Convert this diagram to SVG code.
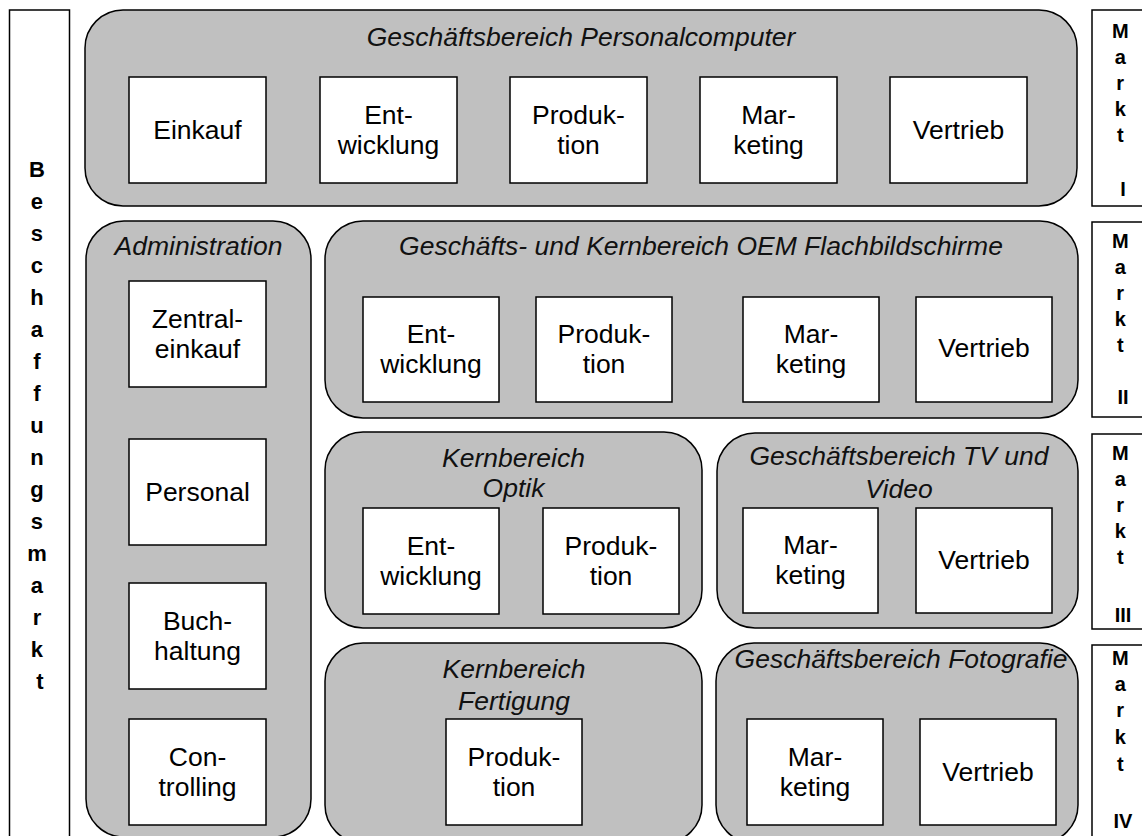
<svg xmlns="http://www.w3.org/2000/svg" width="1142" height="836" viewBox="0 0 1142 836">
  <style>
    .bar { fill: #ffffff; stroke: #000000; stroke-width: 1.5; }
    .area { fill: #c0c0c0; stroke: #000000; stroke-width: 1.5; }
    .unit { fill: #ffffff; stroke: #000000; stroke-width: 1.5; }
    text { font-family: "Liberation Sans", Arial, sans-serif; fill: #000000; }
    .title { font-size: 26.5px; font-style: italic; text-anchor: middle; fill: #111111; }
    .label { font-size: 26.5px; text-anchor: middle; }
    .vert { font-weight: bold; text-anchor: middle; }
  </style>

  <!-- Procurement market bar on the left -->
  <g id="beschaffungsmarkt">
    <rect class="bar" x="9.5" y="10" width="60" height="840"/>
    <text class="vert" font-size="22">
      <tspan x="40" y="177">B</tspan>
      <tspan x="40" y="209">e</tspan>
      <tspan x="40" y="241">s</tspan>
      <tspan x="40" y="273">c</tspan>
      <tspan x="40" y="305">h</tspan>
      <tspan x="40" y="337">a</tspan>
      <tspan x="40" y="369">f</tspan>
      <tspan x="40" y="401">f</tspan>
      <tspan x="40" y="433">u</tspan>
      <tspan x="40" y="465">n</tspan>
      <tspan x="40" y="497">g</tspan>
      <tspan x="40" y="529">s</tspan>
      <tspan x="40" y="561">m</tspan>
      <tspan x="40" y="593">a</tspan>
      <tspan x="40" y="625">r</tspan>
      <tspan x="40" y="657">k</tspan>
      <tspan x="40" y="689">t</tspan>
    </text>
  </g>

  <!-- Sales markets on the right -->
  <g id="markt-1">
    <rect class="bar" x="1092" y="10" width="60" height="196"/>
    <text class="vert" font-size="20">
      <tspan x="1123" y="38">M</tspan>
      <tspan x="1123" y="64">a</tspan>
      <tspan x="1123" y="90">r</tspan>
      <tspan x="1123" y="116">k</tspan>
      <tspan x="1123" y="142">t</tspan>
      <tspan x="1123" y="196">I</tspan>
    </text>
  </g>
  <g id="markt-2">
    <rect class="bar" x="1092" y="222" width="60" height="195"/>
    <text class="vert" font-size="20">
      <tspan x="1123" y="248">M</tspan>
      <tspan x="1123" y="274">a</tspan>
      <tspan x="1123" y="300">r</tspan>
      <tspan x="1123" y="326">k</tspan>
      <tspan x="1123" y="352">t</tspan>
      <tspan x="1123" y="404">II</tspan>
    </text>
  </g>
  <g id="markt-3">
    <rect class="bar" x="1092" y="434" width="60" height="195"/>
    <text class="vert" font-size="20">
      <tspan x="1123" y="460">M</tspan>
      <tspan x="1123" y="486">a</tspan>
      <tspan x="1123" y="512">r</tspan>
      <tspan x="1123" y="538">k</tspan>
      <tspan x="1123" y="564">t</tspan>
      <tspan x="1123" y="622">III</tspan>
    </text>
  </g>
  <g id="markt-4">
    <rect class="bar" x="1092" y="645" width="60" height="200"/>
    <text class="vert" font-size="20">
      <tspan x="1123" y="665">M</tspan>
      <tspan x="1123" y="691">a</tspan>
      <tspan x="1123" y="717">r</tspan>
      <tspan x="1123" y="744">k</tspan>
      <tspan x="1123" y="771">t</tspan>
      <tspan x="1123" y="828">IV</tspan>
    </text>
  </g>

  <!-- Business unit: personal computers -->
  <g id="gb-personalcomputer">
    <rect class="area" x="85" y="10" width="992" height="196" rx="38"/>
    <text class="title" x="581" y="46">Geschäftsbereich Personalcomputer</text>
    <rect class="unit" x="129" y="77" width="137" height="106"/>
    <text class="label" x="197.5" y="139">Einkauf</text>
    <rect class="unit" x="320" y="77" width="137" height="106"/>
    <text class="label"><tspan x="388.5" y="124">Ent-</tspan><tspan x="388.5" y="154">wicklung</tspan></text>
    <rect class="unit" x="510" y="77" width="137" height="106"/>
    <text class="label"><tspan x="578.5" y="124">Produk-</tspan><tspan x="578.5" y="154">tion</tspan></text>
    <rect class="unit" x="700" y="77" width="137" height="106"/>
    <text class="label"><tspan x="768.5" y="124">Mar-</tspan><tspan x="768.5" y="154">keting</tspan></text>
    <rect class="unit" x="890" y="77" width="137" height="106"/>
    <text class="label" x="958.5" y="139">Vertrieb</text>
  </g>

  <!-- Administration -->
  <g id="administration">
    <rect class="area" x="86" y="221" width="225" height="616" rx="38"/>
    <text class="title" x="198.5" y="255">Administration</text>
    <rect class="unit" x="129" y="281" width="137" height="106"/>
    <text class="label"><tspan x="197.5" y="328">Zentral-</tspan><tspan x="197.5" y="358">einkauf</tspan></text>
    <rect class="unit" x="129" y="439" width="137" height="106"/>
    <text class="label" x="197.5" y="501">Personal</text>
    <rect class="unit" x="129" y="583" width="137" height="106"/>
    <text class="label"><tspan x="197.5" y="630">Buch-</tspan><tspan x="197.5" y="660">haltung</tspan></text>
    <rect class="unit" x="129" y="719" width="137" height="106"/>
    <text class="label"><tspan x="197.5" y="766">Con-</tspan><tspan x="197.5" y="796">trolling</tspan></text>
  </g>

  <!-- Business and core unit: OEM flat panels -->
  <g id="gkb-oem-flachbildschirme">
    <rect class="area" x="325" y="221" width="753" height="197" rx="38"/>
    <text class="title" x="701" y="255">Geschäfts- und Kernbereich OEM Flachbildschirme</text>
    <rect class="unit" x="363" y="297" width="136" height="105"/>
    <text class="label"><tspan x="431" y="343">Ent-</tspan><tspan x="431" y="373">wicklung</tspan></text>
    <rect class="unit" x="536" y="297" width="136" height="105"/>
    <text class="label"><tspan x="604" y="343">Produk-</tspan><tspan x="604" y="373">tion</tspan></text>
    <rect class="unit" x="743" y="297" width="136" height="105"/>
    <text class="label"><tspan x="811" y="343">Mar-</tspan><tspan x="811" y="373">keting</tspan></text>
    <rect class="unit" x="916" y="297" width="136" height="105"/>
    <text class="label" x="984" y="357">Vertrieb</text>
  </g>

  <!-- Core unit: optics -->
  <g id="kb-optik">
    <rect class="area" x="325" y="432" width="377" height="196" rx="38"/>
    <text class="title"><tspan x="513.5" y="467">Kernbereich</tspan><tspan x="513.5" y="497">Optik</tspan></text>
    <rect class="unit" x="363" y="508" width="136" height="106"/>
    <text class="label"><tspan x="431" y="555">Ent-</tspan><tspan x="431" y="585">wicklung</tspan></text>
    <rect class="unit" x="543" y="508" width="136" height="106"/>
    <text class="label"><tspan x="611" y="555">Produk-</tspan><tspan x="611" y="585">tion</tspan></text>
  </g>

  <!-- Business unit: TV and video -->
  <g id="gb-tv-video">
    <rect class="area" x="717" y="433" width="361" height="195" rx="38"/>
    <text class="title"><tspan x="899" y="465">Geschäftsbereich TV und</tspan><tspan x="899" y="498">Video</tspan></text>
    <rect class="unit" x="743" y="508" width="135" height="105"/>
    <text class="label"><tspan x="810.5" y="554">Mar-</tspan><tspan x="810.5" y="584">keting</tspan></text>
    <rect class="unit" x="916" y="508" width="136" height="105"/>
    <text class="label" x="984" y="569">Vertrieb</text>
  </g>

  <!-- Core unit: manufacturing -->
  <g id="kb-fertigung">
    <rect class="area" x="325" y="643" width="377" height="200" rx="38"/>
    <text class="title"><tspan x="514" y="678">Kernbereich</tspan><tspan x="514" y="710">Fertigung</tspan></text>
    <rect class="unit" x="446" y="719" width="136" height="106"/>
    <text class="label"><tspan x="514" y="766">Produk-</tspan><tspan x="514" y="796">tion</tspan></text>
  </g>

  <!-- Business unit: photography -->
  <g id="gb-fotografie">
    <rect class="area" x="716" y="643" width="362" height="200" rx="38"/>
    <text class="title" x="901" y="668">Geschäftsbereich Fotografie</text>
    <rect class="unit" x="747" y="719" width="136" height="106"/>
    <text class="label"><tspan x="815" y="766">Mar-</tspan><tspan x="815" y="796">keting</tspan></text>
    <rect class="unit" x="920" y="719" width="136" height="106"/>
    <text class="label" x="988" y="781">Vertrieb</text>
  </g>

  <!-- no connectors in this chart -->
  <g id="connectors"/>
</svg>
